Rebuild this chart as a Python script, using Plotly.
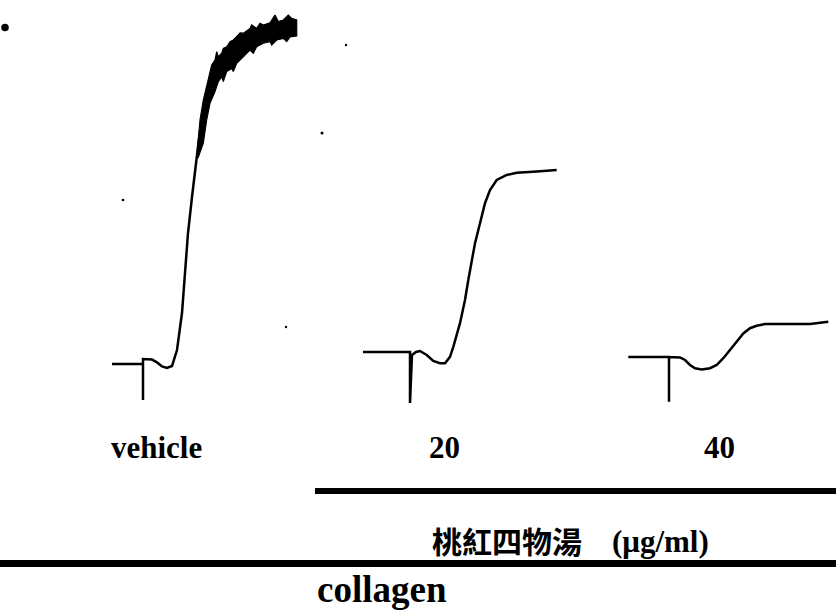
import plotly.graph_objects as go

W, H = 836, 614

# ---------------- data (time in s after collagen, aggregation in %) ----------------
vehicle_t = [-62, 0, 0, 0, 18, 28, 38, 48, 58, 68, 78, 84, 90, 98, 108, 114]
vehicle_a = [0, 0, -9, 1.25, 1.1, 0.4, -0.6, -1.0, -0.5, 3.5, 12.75, 22.75, 32.75, 41.75, 51.75, 58.5]

# noisy plateau of the vehicle trace: upper and lower edges of the band
vehicle_hi_t = [108, 114, 120.6, 127.4, 134, 137.4, 144, 147.4, 150.6, 157.4, 160.6, 167.4, 174, 180.6,
                190.6, 194, 200.6, 214, 217.4, 227.4, 234, 240.6, 254, 264, 270.6, 280.6, 290.6, 297.4, 307.4]
vehicle_hi_a = [51.75, 61, 66, 69.3, 72.7, 74.75, 76, 78.1, 76.8, 77.7, 78.9, 79.3, 80.6, 81,
                82.25, 82.8, 82.7, 83.9, 84.75, 83.9, 85.2, 84.75, 85.3, 87.25, 85.6, 86, 87.25, 86.4, 86]
vehicle_lo_t = [110, 120.6, 127.4, 134, 144, 150.6, 157.4, 160.6, 167.4, 177.4, 180.6, 187.4, 200.6,
                214, 220.6, 227.4, 240.6, 254, 257.4, 267.4, 280.6, 287.4, 294, 307.4]
vehicle_lo_a = [51.5, 55.2, 61, 65.2, 68.1, 70.6, 71.8, 70.6, 73.1, 73.9, 73.1, 75.2, 76.8,
                78.5, 77.7, 79.3, 80.2, 80.6, 79.75, 81, 81.4, 80.6, 81.8, 82]

dose20_t = [-94, 0, 0, 4, 12, 20, 33.4, 46.6, 60, 70, 80, 86.6, 100, 110, 116.6, 123.4, 130, 140,
            150, 160, 173.4, 193.4, 213.4, 253.4, 293.4]
dose20_a = [0, 0, -12.75, -0.75, 0, 0.25, -0.75, -2.25, -2.8, -2.8, -1.2, 1.3, 7.2, 13, 18, 23, 27.2, 32.2,
            37.2, 40.5, 43, 44.25, 44.8, 45.1, 45.5]

dose40_t = [-81.4, 0, 0, 0, 22, 32, 42, 52, 65.4, 82, 95.4, 108.6, 122, 135.4, 148.6, 162, 175.4,
            192, 248.6, 282, 318.6]
dose40_a = [0, 0, -11.2, 0, -0.1, -0.75, -2, -2.8, -3.1, -2.8, -2, -0.3, 1.75, 3.8, 5.9, 7.2, 7.8,
            8.25, 8.2, 8.25, 8.8]

trace_labels = ["vehicle", "20", "40"]
drug_label = "桃紅四物湯"
unit_label = "(μg/ml)"
agonist_label = "collagen"

# ---------------- layout (pixel anchors of each panel) ----------------
spike_px = [143, 410, 669]     # x pixel of collagen addition
base_px = [364, 352, 357]      # y pixel of baseline
PX_PER_S = 0.5
PX_PER_PCT = 4.0


def px(x):
    return x / W


def py(y):
    return 1 - y / H


fig = go.Figure()

series = [(vehicle_t, vehicle_a), (dose20_t, dose20_a), (dose40_t, dose40_a)]
for i, (t, a) in enumerate(series):
    ax = "" if i == 0 else str(i + 1)
    fig.add_trace(go.Scatter(x=t, y=a, mode="lines", xaxis="x" + ax, yaxis="y" + ax,
                             line=dict(color="black", width=2.5), hoverinfo="skip", showlegend=False))

fig.add_trace(go.Scatter(x=vehicle_hi_t + vehicle_lo_t[::-1], y=vehicle_hi_a + vehicle_lo_a[::-1],
                         mode="lines", fill="toself", fillcolor="black",
                         line=dict(color="black", width=1.2), xaxis="x", yaxis="y",
                         hoverinfo="skip", showlegend=False))

layout = dict(width=W, height=H, margin=dict(l=0, r=0, t=0, b=0),
              paper_bgcolor="white", plot_bgcolor="white", showlegend=False)
for i in range(3):
    sx, by = spike_px[i], base_px[i]
    xr = [-sx / PX_PER_S, (W - sx) / PX_PER_S]
    yr = [(by - H) / PX_PER_PCT, by / PX_PER_PCT]
    key = "" if i == 0 else str(i + 1)
    xa = dict(range=xr, visible=False, domain=[0, 1], fixedrange=True)
    ya = dict(range=yr, visible=False, domain=[0, 1], fixedrange=True)
    if i > 0:
        xa.update(overlaying="x", anchor="y" + key)
        ya.update(overlaying="y", anchor="x" + key)
    layout["xaxis" + key] = xa
    layout["yaxis" + key] = ya
fig.update_layout(**layout)

serif = "Liberation Serif, Times New Roman, serif"
label_x = [156, 444, 719]
for lab, lx in zip(trace_labels, label_x):
    fig.add_annotation(x=px(lx), y=py(447), xref="paper", yref="paper", text="<b>%s</b>" % lab,
                       showarrow=False, xanchor="center", yanchor="middle",
                       font=dict(family=serif, size=31, color="black"))

fig.add_annotation(x=px(584), y=py(540), xref="paper", yref="paper", text="<b>%s</b>" % drug_label,
                   showarrow=False, xanchor="right", yanchor="middle",
                   font=dict(family="Noto Sans CJK TC, Noto Sans CJK SC", size=30, color="black"))
fig.add_annotation(x=px(610), y=py(541), xref="paper", yref="paper", text="<b>%s</b>" % unit_label,
                   showarrow=False, xanchor="left", yanchor="middle",
                   font=dict(family=serif, size=31, color="black"))
fig.add_annotation(x=px(382), y=py(589), xref="paper", yref="paper", text="<b>%s</b>" % agonist_label,
                   showarrow=False, xanchor="center", yanchor="middle",
                   font=dict(family=serif, size=37, color="black"))

# bracket lines
fig.add_shape(type="line", xref="paper", yref="paper", x0=px(315), x1=px(836), y0=py(491), y1=py(491),
              line=dict(color="black", width=6))
fig.add_shape(type="line", xref="paper", yref="paper", x0=px(0), x1=px(836), y0=py(563.5), y1=py(563.5),
              line=dict(color="black", width=7))

# scan specks
for cx, cy, r in [(5, 27.5, 3.8), (346, 45, 1.2), (286, 327, 1.2), (322, 133, 1.5), (123, 200, 1.3)]:
    fig.add_shape(type="circle", xref="paper", yref="paper", x0=px(cx - r), x1=px(cx + r),
                  y0=py(cy - r), y1=py(cy + r), fillcolor="black", line=dict(width=0))

fig.write_html("out.html", config={"displayModeBar": False, "staticPlot": True},
               post_script="document.body.style.margin='0';document.body.style.overflow='hidden';")
